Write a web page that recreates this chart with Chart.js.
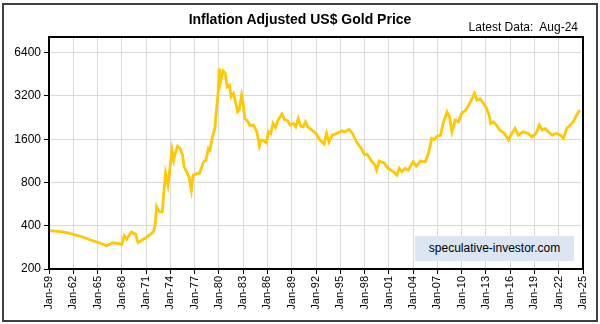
<!DOCTYPE html>
<html>
<head>
<meta charset="utf-8">
<script src="https://cdn.jsdelivr.net/npm/chart.js@4"></script>
<style>
  html, body { margin: 0; padding: 0; background: #fff; }
  #wrap { position: relative; width: 600px; height: 324px; overflow: hidden; font-family: "Liberation Sans", Arial, sans-serif; }
  #frame { position: absolute; left: 2px; top: 3px; width: 592px; height: 315px; border: 2px solid #404040; pointer-events: none; }
  #title { position: absolute; left: 0; width: 600px; top: 11px; text-align: center; font-weight: bold; font-size: 14px; color: #000; }
  #latest { position: absolute; right: 22px; top: 20px; font-size: 12px; color: #000; }
  #mark { position: absolute; left: 415px; top: 236px; width: 159px; height: 25px; background: #dce6f2; font-size: 12px; color: #000; line-height: 25px; text-align: center; }
  canvas { position: absolute; left: 0; top: 0; }
</style>
</head>
<body>
<div id="wrap">
  <canvas id="c" width="600" height="324"></canvas>
  <div id="frame"></div>
  <div id="title">Inflation Adjusted US$ Gold Price</div>
  <div id="latest">Latest Data:&nbsp; Aug-24</div>
  <div id="mark">speculative-investor.com</div>
</div>
<script>
// Dates as decimal years, values in inflation-adjusted US$
const years = [
  1959.0,1959.5,1960.4,1961.0,1962.0,1963.0,1963.9,1965.0,1965.9,1966.1,1966.9,1967.5,1968.0,1968.3,1968.6,1969.2,1969.4,1969.7,1970.0,1970.5,
  1971.0,1971.3,1971.6,1971.9,1972.1,1972.3,1972.5,1972.7,1973.0,1973.2,1973.4,1973.7,1973.9,1974.2,1974.4,1974.6,1974.9,1975.2,1975.5,1975.7,
  1976.0,1976.3,1976.6,1976.8,1977.3,1977.6,1978.1,1978.4,1978.7,1978.9,1979.2,1979.5,1979.7,1979.9,1980.05,1980.2,1980.5,1980.8,1981.0,1981.3,
  1981.5,1981.8,1982.1,1982.3,1982.5,1982.8,1983.0,1983.2,1983.6,1983.8,1984.3,1984.7,1985.0,1985.2,1985.4,1985.7,1985.9,1986.1,1986.4,1986.7,
  1987.0,1987.3,1987.8,1988.1,1988.5,1988.8,1989.2,1989.5,1989.8,1990.1,1990.4,1990.7,1991.0,1991.5,1992.0,1992.5,1993.0,1993.3,1993.6,1994.0,
  1994.6,1995.2,1995.5,1996.1,1996.5,1997.0,1997.6,1998.0,1998.3,1998.7,1999.3,1999.5,1999.8,2000.4,2000.9,2001.6,2002.0,2002.3,2002.6,2003.0,
  2003.4,2004.0,2004.4,2004.9,2005.5,2005.9,2006.3,2006.6,2007.0,2007.4,2007.7,2008.2,2008.5,2008.8,2009.2,2009.6,2010.0,2010.5,2011.0,2011.6,
  2011.9,2012.3,2012.7,2013.0,2013.4,2013.6,2013.9,2014.3,2014.7,2015.3,2015.8,2016.2,2016.6,2017.0,2017.6,2018.2,2018.7,2019.2,2019.6,2020.0,
  2020.3,2020.7,2021.2,2021.7,2022.2,2022.6,2023.0,2023.4,2023.8,2024.2,2024.6
];
const prices = [
  370,368,364,360,349,336,322,307,294,290,305,302,297,341,322,363,355,350,305,318,
  330,341,350,363,400,542,514,500,500,689,926,767,950,1344,1145,1275,1433,1380,1241,1029,
  950,877,709,900,926,926,1114,1145,1380,1350,1663,1902,2550,3331,4970,4010,4783,4590,3700,3800,
  3154,3331,2838,2482,2550,3240,2838,2231,2114,2000,2006,1801,1433,1577,1577,1535,1510,1801,1750,2060,
  1933,2172,2392,2197,2148,2006,2060,1951,2231,1974,1951,2114,1951,1851,1755,1577,1480,1755,1535,1709,
  1755,1830,1800,1871,1755,1535,1380,1250,1260,1160,1057,975,1127,1097,1003,950,900,1003,950,1003,
  975,1114,1040,1127,1114,1275,1620,1590,1682,1709,2060,2482,2290,1801,2172,2110,2419,2550,2838,3331,
  2992,3050,2838,2688,2353,2060,2114,2006,1851,1755,1577,1755,1902,1709,1801,1755,1663,1755,2006,1851,
  1900,1801,1709,1755,1709,1620,1902,2006,2114,2353,2550
];
const yTicks = [200, 400, 800, 1600, 3200, 6400];
const xStart = 1959, xEnd = 2025, xStep = 3;

const points = years.map((y, i) => ({ x: y, y: prices[i] }));

const frameBox = {
  id: 'frameBox',
  afterDraw(chart) {
    const a = chart.chartArea, ctx = chart.ctx;
    ctx.save();
    ctx.strokeStyle = '#000';
    ctx.lineWidth = 2;
    ctx.strokeRect(a.left, a.top, a.right - a.left, a.bottom - a.top);
    ctx.restore();
  }
};

new Chart(document.getElementById('c'), {
  type: 'line',
  data: { datasets: [{ data: points, borderColor: '#FFC800', borderWidth: 2.8, pointRadius: 0, tension: 0, fill: false }] },
  options: {
    responsive: false, animation: false, devicePixelRatio: 1,
    layout: { padding: { top: 37, right: 17, left: 0, bottom: 0 } },
    plugins: { legend: { display: false }, title: { display: false }, tooltip: { enabled: false } },
    scales: {
      x: {
        type: 'linear', min: xStart, max: xEnd,
        afterFit(s) { s.height = 55; },
        afterBuildTicks(s) { const t = []; for (let v = xStart; v <= xEnd; v += xStep) t.push({ value: v }); s.ticks = t; },
        ticks: {
          autoSkip: false, maxRotation: 90, minRotation: 90, padding: 2, color: '#000',
          font: { family: 'Liberation Sans', size: 11 },
          callback: v => 'Jan-' + String(v % 100).padStart(2, '0')
        },
        grid: { color: '#d9d9d9', lineWidth: 1, tickColor: '#000', tickLength: 5, drawTicks: true },
        border: { display: true, color: '#000', width: 2 }
      },
      y: {
        type: 'logarithmic', min: 200, max: 8230,
        afterFit(s) { s.width = 49; },
        afterBuildTicks(s) { s.ticks = yTicks.map(v => ({ value: v })); },
        ticks: { padding: 3, color: '#000', font: { family: 'Liberation Sans', size: 12 }, callback: v => String(v) },
        grid: { color: '#d9d9d9', lineWidth: 1, tickColor: '#000', tickLength: 5, drawTicks: true },
        border: { display: true, color: '#000', width: 2 }
      }
    }
  },
  plugins: [frameBox]
});
</script>
</body>
</html>
